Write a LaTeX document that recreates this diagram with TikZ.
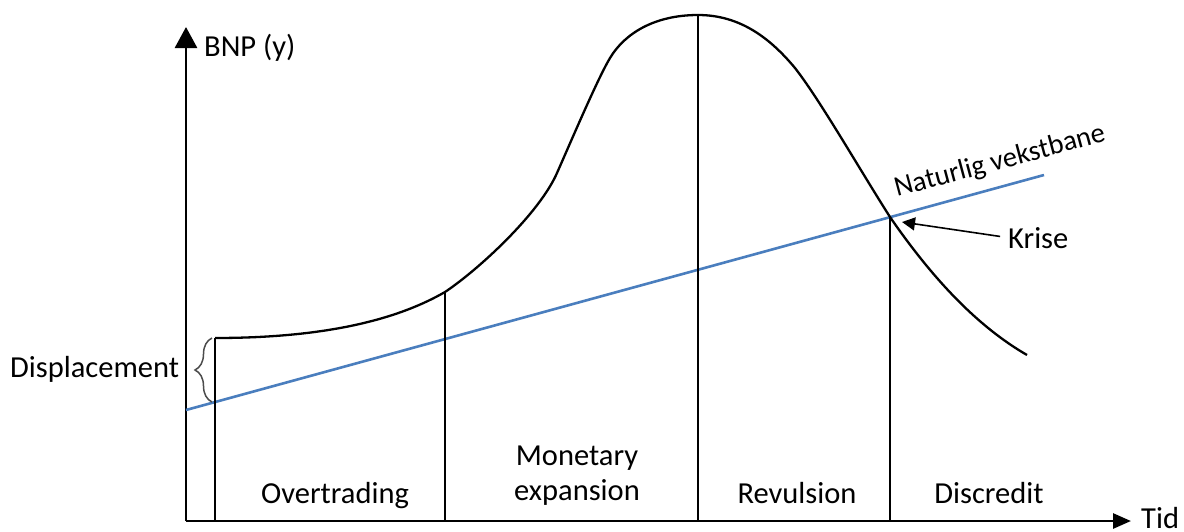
\documentclass[tikz,border=0pt]{standalone}
\usepackage{fontspec}
\setmainfont{Carlito}
\usetikzlibrary{arrows.meta,decorations.pathreplacing}
\definecolor{growth}{RGB}{74,126,190}
\begin{document}
\begin{tikzpicture}[x=1pt,y=-1pt,
  every node/.style={font=\fontsize{30.5}{35}\selectfont, inner sep=0pt},
  yaxis/.style={line width=2.8pt,-{Triangle[length=21pt,width=22pt]}},
  xaxis/.style={line width=2.8pt,-{Triangle[length=18pt,width=15pt]}},
  divider/.style={line width=2pt},
  curve/.style={line width=2.3pt, line join=round},
  growthline/.style={growth, line width=2.6pt},
  pointer/.style={line width=1.6pt,-{Triangle[length=13pt,width=13pt]}},
  bracestyle/.style={draw=black!70, line width=1.5pt, decorate, decoration={brace, amplitude=17pt}}]
\useasboundingbox (0,0) rectangle (1184,531);
\fill[white] (0,0) rectangle (1184,531);
% axes
\coordinate (O) at (186,521);
\coordinate (ytop) at (186,27);
\coordinate (xend) at (1131,521);
\draw[yaxis] (O) -- (ytop);
\draw[xaxis] (O) -- (xend);
\node[anchor=base west] (bnp) at (204,56) {BNP (y)};
\node[anchor=base west] (tid) at (1141,528) {Tid};
% growth line
\coordinate (g0) at (186,410);
\coordinate (g1) at (1044,175);
\draw[growthline] (g0) -- (g1);
\node[anchor=base west, rotate=15, font=\fontsize{28.5}{34}\selectfont] (nat) at (897,197) {Naturlig vekstbane};
% curve
\coordinate (c0) at (215,338);
\coordinate (c1) at (445,292);
\coordinate (c2) at (698,15);
\coordinate (c3) at (890,217);
\coordinate (cend) at (1027,355);
\draw[curve] (c0) .. controls (330,338) and (400,318) .. (c1)
  .. controls (478,270) and (539,214) .. (557,173)
  .. controls (572,139) and (598,78) .. (610,58)
  .. controls (625,33) and (655,15) .. (c2)
  .. controls (740,15) and (770,38) .. (795,68)
  .. controls (820,100) and (860,170) .. (c3)
  .. controls (930,275) and (975,325) .. (cend);
% dividers
\draw[divider] (c0) -- (c0 |- O);
\draw[divider] (c1) -- (c1 |- O);
\draw[divider] (c2) -- (c2 |- O);
\draw[divider] (c3) -- (c3 |- O);
% displacement brace
\draw[bracestyle] (212,402) -- (212,338);
\node[anchor=base west] (disp) at (10,377) {Displacement};
% crisis
\node[anchor=base west] (krise) at (1008,248) {Krise};
\coordinate (kt) at (902,222);
\draw[pointer, shorten <=8pt] (krise.west) -- (kt);
% phase labels
\node[anchor=base] (over) at (335,503) {Overtrading};
\node[align=center] (mon) at (577,476) {Monetary\\expansion};
\node[anchor=base] (rev) at (797,503) {Revulsion};
\node[anchor=base] (disc) at (989,503) {Discredit};
\end{tikzpicture}
\end{document}
